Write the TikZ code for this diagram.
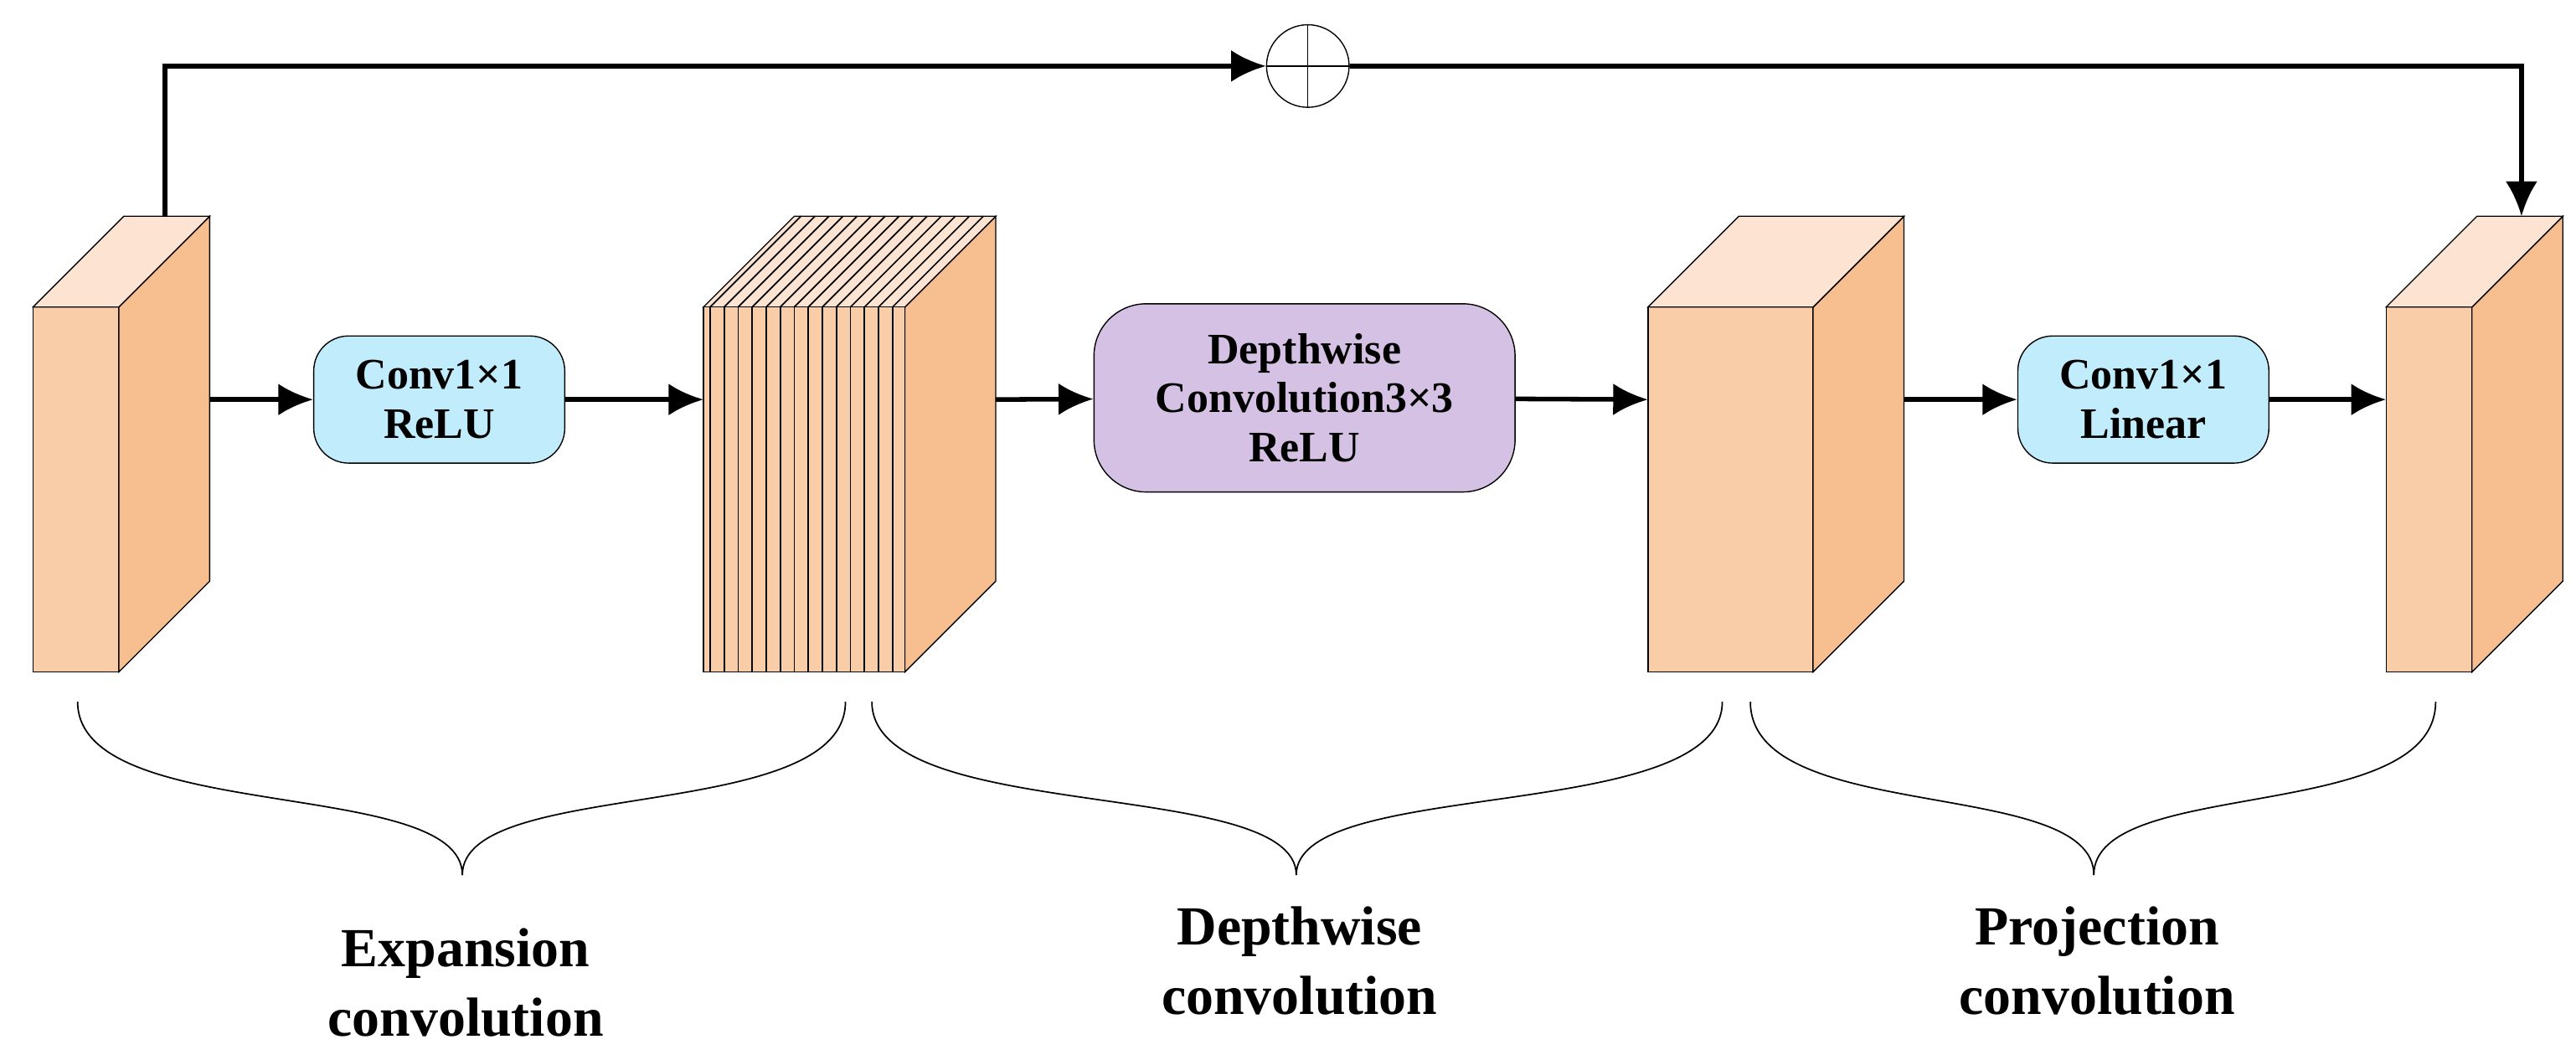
\documentclass[tikz,border=0pt]{standalone}
\usepackage{fontspec}
\setmainfont{Liberation Serif}
\usetikzlibrary{arrows.meta}
\definecolor{front}{HTML}{F9CDA8}
\definecolor{side}{HTML}{F7BF90}
\definecolor{topc}{HTML}{FCE3D2}
\definecolor{cyanbox}{HTML}{C0ECFB}
\definecolor{purplebox}{HTML}{D5C1E4}
% block: left x, right x of front face, name
\newcommand{\MyBlock}[3]{
\draw [fill=front] (#1,186) rectangle (#2,407);
\draw [fill=side] (#2,186) -- (#2+55,131) -- (#2+55,352) -- (#2,407) -- cycle;
\draw [fill=topc] (#1,186) -- (#1+55,131) -- (#2+55,131) -- (#2,186) -- cycle;
\coordinate (#3in) at (#1,242);
\coordinate (#3out) at (#2+55,242);
}
\tikzset{
box/.style={draw, rounded corners=12pt, align=center, font=\fontsize{15}{17}\selectfont\bfseries, inner sep=0pt},
arr/.style={line width=1.6pt, -{Latex[length=12pt,width=11pt]}},
brace/.style={line width=0.5pt},
lab/.style={align=center, font=\fontsize{19}{24}\selectfont\bfseries}
}

\begin{document}
\begin{tikzpicture}[x=0.02cm, y=-0.02cm]
\useasboundingbox (0,0) rectangle (1560,642);

\MyBlock{20}{72}{a}
\MyBlock{998}{1098}{c}
\MyBlock{1445}{1497}{d}

% striped block
\draw [fill=side] (548,186) -- (603,131) -- (603,352) -- (548,407) -- cycle;
\draw [fill=topc] (426,186) -- (481,131) -- (603,131) -- (548,186) -- cycle;
\draw [fill=front] (426,186) rectangle (548,407);
\foreach \i in {0,...,13} {
  \draw [line width=0.5pt] (430+\i*8.5,186) -- (430+\i*8.5,407);
  \draw [line width=0.5pt] (430+\i*8.5,186) -- (485+\i*8.5,131);
}
\coordinate (bin) at (426,242);
\coordinate (bout) at (603,242);

\node [box, fill=cyanbox, minimum width=152*0.02cm, minimum height=77*0.02cm] (conv1) at (266,242) {Conv1×1\\ReLU};
\node [box, fill=purplebox, minimum width=255*0.02cm, minimum height=114*0.02cm, rounded corners=18pt] (dw) at (790,241) {Depthwise\\Convolution3×3\\ReLU};
\node [box, fill=cyanbox, minimum width=152*0.02cm, minimum height=77*0.02cm] (conv2) at (1298,242) {Conv1×1\\Linear};

\draw [arr] (aout) -- (conv1);
\draw [arr] (conv1) -- (bin);
\draw [arr] (bout) -- (dw);
\draw [arr] (dw) -- (cin);
\draw [arr] (cout) -- (conv2);
\draw [arr] (conv2) -- (din);

% skip connection
\node [draw, circle, minimum size=50*0.02cm, inner sep=0pt] (plus) at (792,40) {};
\draw (plus.north) -- (plus.south);
\draw (plus.west) -- (plus.east);
\coordinate (skipA) at (100,131);
\coordinate (skipD) at (1527,131);
\draw [arr] (skipA) |- (plus.west);
\draw [arr] (plus.east) -| (skipD);

% braces
\draw [brace] (47,425) .. controls (47,500) and (280,470) .. (280,530);
\draw [brace] (512,425) .. controls (512,500) and (280,470) .. (280,530);
\draw [brace] (528,425) .. controls (528,500) and (785,470) .. (785,530);
\draw [brace] (1043,425) .. controls (1043,500) and (785,470) .. (785,530);
\draw [brace] (1060,425) .. controls (1060,500) and (1268,470) .. (1268,530);
\draw [brace] (1475,425) .. controls (1475,500) and (1268,470) .. (1268,530);

\node [lab] (expl) at (282,595) {Expansion\\convolution};
\node [lab] (dwl) at (787,582) {Depthwise\\convolution};
\node [lab] (prl) at (1270,582) {Projection\\convolution};
\end{tikzpicture}
\end{document}
